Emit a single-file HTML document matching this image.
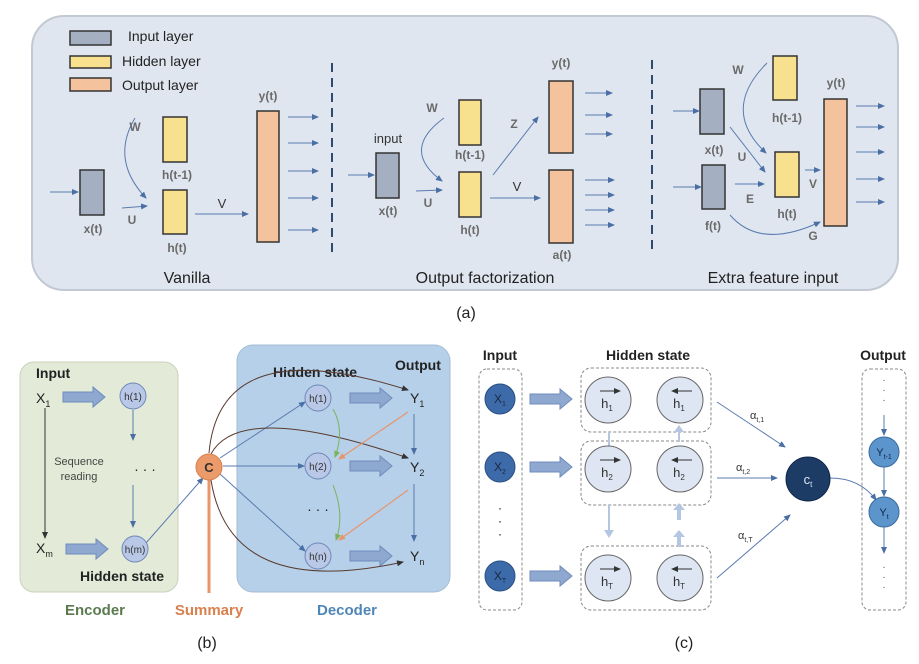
<!DOCTYPE html>
<html><head><meta charset="utf-8"><style>
html,body{margin:0;padding:0;background:#fff}
svg{display:block}
text{font-family:"Liberation Sans",sans-serif}
</style></head><body>
<svg width="919" height="664" viewBox="0 0 919 664" xmlns="http://www.w3.org/2000/svg">
<defs>
<marker id="a" markerWidth="8" markerHeight="8" refX="6" refY="3" orient="auto" markerUnits="userSpaceOnUse"><path d="M0,0 L7,3 L0,6 z" fill="#4a6fa5"/></marker>
<marker id="ak" markerWidth="8" markerHeight="8" refX="6" refY="3" orient="auto" markerUnits="userSpaceOnUse"><path d="M0,0 L7,3 L0,6 z" fill="#333"/></marker>
<marker id="ao" markerWidth="8" markerHeight="8" refX="6" refY="3" orient="auto" markerUnits="userSpaceOnUse"><path d="M0,0 L7,3 L0,6 z" fill="#e8956a"/></marker>
<marker id="ag" markerWidth="8" markerHeight="8" refX="6" refY="3" orient="auto" markerUnits="userSpaceOnUse"><path d="M0,0 L7,3 L0,6 z" fill="#7cb35a"/></marker>
<g id="ta"><path d="M0,-5 H30 V-10 L42,0 L30,10 V5 H0 z" fill="#8fa8d0" stroke="#6f8cbc" stroke-width="1"/></g>
</defs>

<!-- Panel (a) -->
<rect x="32" y="16" width="866" height="274" rx="32" fill="#dfe6ef" stroke="#c2c9d2" stroke-width="2"/>
<g stroke="#333" stroke-width="1.5">
<rect x="70" y="31" width="41" height="14" fill="#a4afc2"/>
<rect x="70" y="56" width="41" height="12" fill="#f7e08e"/>
<rect x="70" y="78" width="41" height="13" fill="#f4c39d"/>
</g>
<g font-size="14" fill="#222">
<text x="128" y="41">Input layer</text>
<text x="122" y="66">Hidden layer</text>
<text x="122" y="90">Output layer</text>
</g>
<g stroke="#333" stroke-width="1.5">
<rect x="80" y="170" width="24" height="45" fill="#a4afc2"/>
<rect x="163" y="117" width="24" height="45" fill="#f7e08e"/>
<rect x="163" y="190" width="24" height="44" fill="#f7e08e"/>
<rect x="257" y="111" width="22" height="131" fill="#f4c39d"/>
<rect x="376" y="153" width="23" height="45" fill="#a4afc2"/>
<rect x="459" y="100" width="22" height="45" fill="#f7e08e"/>
<rect x="459" y="172" width="22" height="45" fill="#f7e08e"/>
<rect x="549" y="81" width="24" height="72" fill="#f4c39d"/>
<rect x="549" y="170" width="24" height="73" fill="#f4c39d"/>
<rect x="700" y="89" width="24" height="45" fill="#a4afc2"/>
<rect x="702" y="165" width="23" height="44" fill="#a4afc2"/>
<rect x="773" y="56" width="24" height="44" fill="#f7e08e"/>
<rect x="775" y="152" width="24" height="45" fill="#f7e08e"/>
<rect x="824" y="99" width="23" height="127" fill="#f4c39d"/>
</g>
<g stroke="#5a7bb0" stroke-width="1" fill="none" marker-end="url(#a)">
<line x1="50" y1="192" x2="78" y2="192"/>
<path d="M135,118 Q110,160 146,198"/>
<line x1="122" y1="208" x2="147" y2="206"/>
<line x1="195" y1="214" x2="248" y2="214"/>
<line x1="288" y1="117" x2="318" y2="117"/><line x1="288" y1="143" x2="318" y2="143"/><line x1="288" y1="171" x2="318" y2="171"/><line x1="288" y1="198" x2="318" y2="198"/><line x1="288" y1="230" x2="318" y2="230"/>
<line x1="348" y1="175" x2="374" y2="175"/>
<path d="M444,118 Q400,150 442,181"/>
<line x1="416" y1="191" x2="442" y2="190"/>
<line x1="493" y1="175" x2="538" y2="117"/>
<line x1="490" y1="198" x2="540" y2="198"/>
<line x1="585" y1="93" x2="612" y2="93"/><line x1="585" y1="115" x2="612" y2="115"/><line x1="585" y1="134" x2="612" y2="134"/>
<line x1="585" y1="180" x2="614" y2="180"/><line x1="585" y1="195" x2="614" y2="195"/><line x1="585" y1="210" x2="614" y2="210"/><line x1="585" y1="225" x2="614" y2="225"/>
<line x1="673" y1="111" x2="699" y2="111"/>
<line x1="673" y1="187" x2="701" y2="187"/>
<path d="M767,63 Q720,110 766,153"/>
<line x1="730" y1="127" x2="765" y2="172"/>
<line x1="735" y1="184" x2="764" y2="184"/>
<line x1="805" y1="170" x2="820" y2="170"/>
<path d="M730,215 Q760,250 820,222"/>
<line x1="856" y1="106" x2="884" y2="106"/><line x1="856" y1="127" x2="884" y2="127"/><line x1="856" y1="152" x2="884" y2="152"/><line x1="856" y1="179" x2="884" y2="179"/><line x1="856" y1="202" x2="884" y2="202"/>
</g>
<g stroke="#2f4a70" stroke-width="2" stroke-dasharray="9,6">
<line x1="332" y1="63" x2="332" y2="257"/>
<line x1="652" y1="60" x2="652" y2="255"/>
</g>
<g font-size="12" fill="#6a6a6a" font-weight="bold" text-anchor="middle">
<text x="93" y="233">x(t)</text><text x="135" y="131">W</text><text x="177" y="179">h(t-1)</text><text x="177" y="252">h(t)</text><text x="132" y="224">U</text><text x="268" y="100">y(t)</text>
<text x="388" y="215">x(t)</text><text x="432" y="112">W</text><text x="470" y="159">h(t-1)</text><text x="470" y="234">h(t)</text><text x="428" y="207">U</text><text x="514" y="128">Z</text><text x="561" y="67">y(t)</text><text x="562" y="259">a(t)</text>
<text x="714" y="154">x(t)</text><text x="713" y="230">f(t)</text><text x="738" y="74">W</text><text x="787" y="122">h(t-1)</text><text x="787" y="218">h(t)</text><text x="742" y="161">U</text><text x="750" y="203">E</text><text x="813" y="188">V</text><text x="813" y="240">G</text><text x="836" y="87">y(t)</text>
</g>
<g font-size="13" fill="#333" text-anchor="middle"><text x="222" y="208">V</text><text x="517" y="191">V</text><text x="388" y="143">input</text></g>
<g font-size="16" fill="#222" text-anchor="middle">
<text x="187" y="283">Vanilla</text><text x="485" y="283">Output factorization</text><text x="773" y="283">Extra feature input</text>
<text x="466" y="318">(a)</text><text x="207" y="648">(b)</text><text x="684" y="648">(c)</text>
</g>

<!-- Panel (b) -->
<rect x="20" y="362" width="158" height="230" rx="14" fill="#e3ebd8" stroke="#c8d2bc"/>
<rect x="237" y="345" width="213" height="247" rx="16" fill="#b5d0e8" stroke="#a3bdd6"/>
<g font-size="14" font-weight="bold" fill="#222">
<text x="36" y="378">Input</text><text x="80" y="581">Hidden state</text><text x="273" y="377">Hidden state</text><text x="395" y="370">Output</text>
</g>
<g font-size="14" fill="#222">
<text x="36" y="403">X<tspan font-size="9" dy="4">1</tspan></text>
<text x="36" y="553">X<tspan font-size="9" dy="4">m</tspan></text>
<text x="410" y="403">Y<tspan font-size="9" dy="4">1</tspan></text>
<text x="410" y="472">Y<tspan font-size="9" dy="4">2</tspan></text>
<text x="410" y="561">Y<tspan font-size="9" dy="4">n</tspan></text>
</g>
<g font-size="11" fill="#444" text-anchor="middle"><text x="79" y="465">Sequence</text><text x="79" y="480">reading</text></g>
<text x="145" y="474" font-size="14" text-anchor="middle" fill="#222">· · ·</text>
<text x="318" y="514" font-size="14" text-anchor="middle" fill="#222">· · ·</text>
<use href="#ta" x="63" y="397"/><use href="#ta" x="66" y="549"/>
<use href="#ta" x="350" y="398"/><use href="#ta" x="350" y="466"/><use href="#ta" x="350" y="556"/>
<line x1="45" y1="408" x2="45" y2="538" stroke="#333" marker-end="url(#ak)"/>
<g stroke="#5a7bb0" stroke-width="1" fill="none" marker-end="url(#a)">
<line x1="133" y1="410" x2="133" y2="440"/><line x1="133" y1="485" x2="133" y2="527"/>
<line x1="146" y1="543" x2="203" y2="478"/>
<line x1="220" y1="458" x2="305" y2="402"/><line x1="223" y1="466" x2="304" y2="466"/><line x1="220" y1="474" x2="305" y2="551"/>
<line x1="414" y1="414" x2="414" y2="454"/><line x1="414" y1="484" x2="414" y2="541"/>
</g>
<g stroke="#5a3a30" stroke-width="1" fill="none" marker-end="url(#ak)">
<path d="M209,453 Q220,330 408,390"/>
<path d="M211,454 Q240,400 408,458"/>
<path d="M211,480 Q230,600 403,562"/>
</g>
<g stroke="#7cb35a" stroke-width="1" fill="none" marker-end="url(#ag)">
<path d="M333,409 Q345,430 335,457"/><path d="M333,485 Q345,515 336,540"/>
</g>
<g stroke="#e8956a" stroke-width="1.2" fill="none" marker-end="url(#ao)">
<line x1="408" y1="412" x2="339" y2="459"/><line x1="408" y1="490" x2="339" y2="540"/>
</g>
<line x1="209" y1="480" x2="209" y2="593" stroke="#e8956a" stroke-width="3"/>
<circle cx="209" cy="467" r="13" fill="#eb9a6a" stroke="#d77f4d"/>
<text x="209" y="472" font-size="13" font-weight="bold" text-anchor="middle" fill="#333">C</text>
<g fill="#b9c8e6" stroke="#6f88b8">
<circle cx="133" cy="396" r="13"/><circle cx="135" cy="549" r="13"/>
<circle cx="318" cy="398" r="13"/><circle cx="318" cy="466" r="13"/><circle cx="318" cy="556" r="13"/>
</g>
<g font-size="10" text-anchor="middle" fill="#333">
<text x="133" y="400">h(1)</text><text x="135" y="553">h(m)</text><text x="318" y="402">h(1)</text><text x="318" y="470">h(2)</text><text x="318" y="560">h(n)</text>
</g>
<g font-size="15" font-weight="bold" text-anchor="middle">
<text x="95" y="615" fill="#5b7a50">Encoder</text><text x="209" y="615" fill="#d9804f">Summary</text><text x="347" y="615" fill="#4f86b8">Decoder</text>
</g>

<!-- Panel (c) -->
<g font-size="14" font-weight="bold" fill="#222" text-anchor="middle">
<text x="500" y="360">Input</text><text x="648" y="360">Hidden state</text><text x="883" y="360">Output</text>
</g>
<g fill="none" stroke="#888" stroke-dasharray="3,2">
<rect x="479" y="369" width="43" height="241" rx="8"/>
<rect x="581" y="368" width="130" height="64" rx="10"/>
<rect x="581" y="441" width="130" height="64" rx="10"/>
<rect x="581" y="546" width="130" height="64" rx="10"/>
<rect x="862" y="369" width="44" height="241" rx="8"/>
</g>
<use href="#ta" x="530" y="399"/><use href="#ta" x="530" y="467"/><use href="#ta" x="530" y="576"/>
<g fill="#b5c6e2">
<path d="M608,432 v14 h-4 l5,7 l5,-7 h-4 v-14z"/><path d="M608,505 v25 h-4 l5,8 l5,-8 h-4 v-25z"/>
<path d="M680,432 v-10 h4 l-5,-7 l-5,7 h4 v10z" transform="translate(0,10)"/>
<path d="M677,520 v-10 h-4 l6,-7 l6,7 h-4 v10z"/><path d="M677,547 v-10 h-4 l6,-7 l6,7 h-4 v10z"/>
</g>
<g fill="#3d6aa8" stroke="#2a4f85"><circle cx="500" cy="399" r="15"/><circle cx="500" cy="467" r="15"/><circle cx="500" cy="576" r="15"/></g>
<g font-size="12" fill="#1a2a44" text-anchor="middle">
<text x="500" y="403">X<tspan font-size="7" dy="3">1</tspan></text><text x="500" y="471">X<tspan font-size="7" dy="3">2</tspan></text><text x="500" y="580">X<tspan font-size="7" dy="3">T</tspan></text>
</g>
<text x="500" y="512" font-size="12" text-anchor="middle">·</text><text x="500" y="525" font-size="12" text-anchor="middle">·</text><text x="500" y="538" font-size="12" text-anchor="middle">·</text>
<g fill="#dde6f2" stroke="#666">
<circle cx="608" cy="400" r="23"/><circle cx="680" cy="400" r="23"/>
<circle cx="608" cy="469" r="23"/><circle cx="680" cy="469" r="23"/>
<circle cx="608" cy="578" r="23"/><circle cx="680" cy="578" r="23"/>
</g>
<g stroke="#333" stroke-width="1">
<line x1="600" y1="391" x2="620" y2="391" marker-end="url(#ak)"/><line x1="692" y1="391" x2="672" y2="391" marker-end="url(#ak)"/>
<line x1="600" y1="460" x2="620" y2="460" marker-end="url(#ak)"/><line x1="692" y1="460" x2="672" y2="460" marker-end="url(#ak)"/>
<line x1="600" y1="569" x2="620" y2="569" marker-end="url(#ak)"/><line x1="692" y1="569" x2="672" y2="569" marker-end="url(#ak)"/>
</g>
<g font-size="13" fill="#333" text-anchor="middle">
<text x="607" y="408">h<tspan font-size="8" dy="3">1</tspan></text><text x="679" y="408">h<tspan font-size="8" dy="3">1</tspan></text>
<text x="607" y="477">h<tspan font-size="8" dy="3">2</tspan></text><text x="679" y="477">h<tspan font-size="8" dy="3">2</tspan></text>
<text x="607" y="586">h<tspan font-size="8" dy="3">T</tspan></text><text x="679" y="586">h<tspan font-size="8" dy="3">T</tspan></text>
</g>
<g stroke="#5a7bb0" fill="none" marker-end="url(#a)">
<line x1="717" y1="402" x2="785" y2="447"/><line x1="717" y1="478" x2="777" y2="478"/><line x1="717" y1="578" x2="790" y2="515"/>
<path d="M830,478 Q860,478 876,500"/>
<line x1="884" y1="415" x2="884" y2="435"/><line x1="884" y1="467" x2="884" y2="496"/><line x1="884" y1="527" x2="884" y2="553"/>
</g>
<g font-size="11" fill="#333"><text x="750" y="419">α<tspan font-size="7" dy="3">t,1</tspan></text><text x="736" y="471">α<tspan font-size="7" dy="3">t,2</tspan></text><text x="738" y="539">α<tspan font-size="7" dy="3">t,T</tspan></text></g>
<circle cx="808" cy="479" r="22" fill="#1c3c66" stroke="#10264a"/>
<text x="808" y="484" font-size="13" fill="#dfe8f5" text-anchor="middle">c<tspan font-size="8" dy="3">t</tspan></text>
<g fill="#5c94cc" stroke="#3c6aa0"><circle cx="884" cy="452" r="15"/><circle cx="884" cy="512" r="15"/></g>
<g font-size="11" fill="#10264a" text-anchor="middle"><text x="884" y="456">Y<tspan font-size="7" dy="3">t-1</tspan></text><text x="884" y="516">Y<tspan font-size="7" dy="3">t</tspan></text></g>
<g font-size="10" fill="#555" text-anchor="middle"><text x="884" y="383">·</text><text x="884" y="393">·</text><text x="884" y="403">·</text><text x="884" y="570">·</text><text x="884" y="580">·</text><text x="884" y="590">·</text></g>
</svg>
</body></html>
